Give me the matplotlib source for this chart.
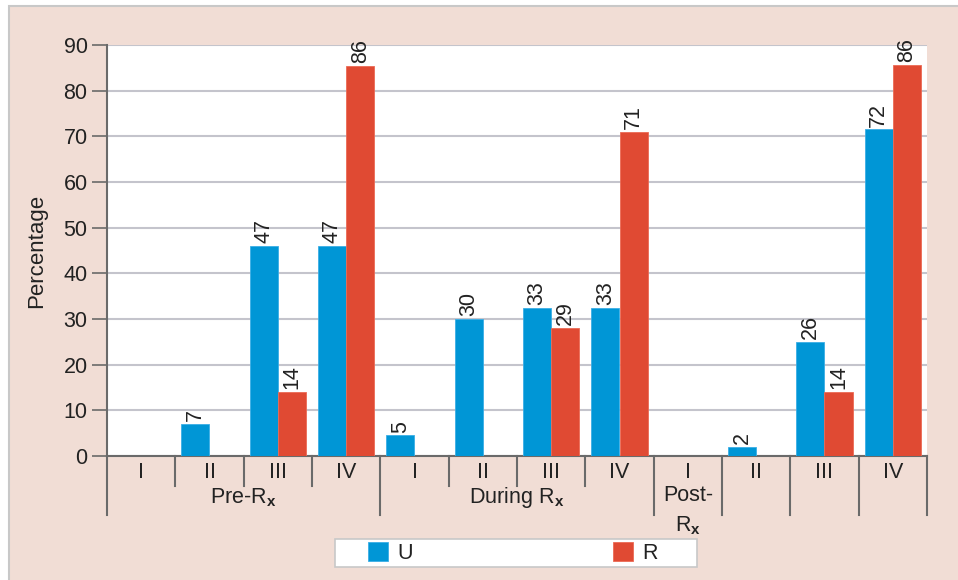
import matplotlib
matplotlib.use("Agg")
import matplotlib.pyplot as plt
from matplotlib.patches import Rectangle
import matplotlib.transforms as mtransforms

plt.rcParams['font.family'] = ['Liberation Sans', 'DejaVu Sans']
plt.rcParams['mathtext.fontset'] = 'custom'
plt.rcParams['mathtext.rm'] = 'Liberation Sans'
plt.rcParams['mathtext.bf'] = 'Liberation Sans:bold'

# ---- data ----
stages = ['I', 'II', 'III', 'IV', 'I', 'II', 'III', 'IV', 'I', 'II', 'III', 'IV']
groups = ['Pre-R$_\\mathbf{x}$', 'During R$_\\mathbf{x}$', 'Post-\nR$_\\mathbf{x}$']
u_values = [0, 7, 46, 46, 4.5, 30, 32.5, 32.5, 0, 2, 25, 71.5]
r_values = [0, 0, 14, 85.5, 0, 0, 28, 71, 0, 0, 14, 85.7]
u_labels = ['', '7', '47', '47', '5', '30', '33', '33', '', '2', '26', '72']
r_labels = ['', '', '14', '86', '', '', '29', '71', '', '', '14', '86']
yticks = [0, 10, 20, 30, 40, 50, 60, 70, 80, 90]

BLUE = '#0096d6'
RED = '#e04a33'
PINK = '#f1ddd5'
GRID = '#c4c4cc'
AXC = '#6a6a6a'
TXT = '#222222'
FS = 15.5

W, H = 958, 580
fig = plt.figure(figsize=(W / 100, H / 100), dpi=100, facecolor='white')

# pink background panel
fig.patches.append(Rectangle((9 / W, -0.05), 1.1, 1 - 6 / H + 0.05, transform=fig.transFigure,
                             facecolor=PINK, edgecolor='#c8c8c8', linewidth=1.5, zorder=-10))

L, R_, T, B = 107, 927, 45, 456
ax = fig.add_axes([L / W, 1 - B / H, (R_ - L) / W, (B - T) / H])
ax.set_facecolor('white')
ax.set_zorder(2)

x = list(range(len(stages)))
bw = 0.41
ax.bar([i - bw / 2 for i in x], u_values, width=bw, color=BLUE, edgecolor='#3aaee6', linewidth=0.6, zorder=3, label='U')
ax.bar([i + bw / 2 for i in x], r_values, width=bw, color=RED, edgecolor='#ec6a55', linewidth=0.6, zorder=3, label='R')

for i in x:
    if u_labels[i]:
        ax.annotate(u_labels[i], (i - bw / 2, u_values[i]), xytext=(0, 2), textcoords='offset points',
                    rotation=90, ha='center', va='bottom', fontsize=FS, color=TXT, zorder=4)
    if r_labels[i]:
        ax.annotate(r_labels[i], (i + bw / 2, r_values[i]), xytext=(0, 2), textcoords='offset points',
                    rotation=90, ha='center', va='bottom', fontsize=FS, color=TXT, zorder=4)

ax.set_xlim(-0.5, len(stages) - 0.5)
ax.set_ylim(0, 90)
ax.set_yticks(yticks)
ax.set_yticklabels([str(v) for v in yticks], fontsize=FS, color=TXT)
ax.tick_params(axis='y', length=11, width=1.2, color=AXC, pad=3)
ax.yaxis.grid(True, color=GRID, linewidth=1.5, zorder=0)
ax.set_axisbelow(True)

ax.set_xticks(x)
ax.set_xticklabels(stages, fontsize=FS, color=TXT)
ax.tick_params(axis='x', length=0, pad=4)

for s in ['top', 'right']:
    ax.spines[s].set_visible(False)
for s in ['left', 'bottom']:
    ax.spines[s].set_color(AXC)
    ax.spines[s].set_linewidth(1.5)

ax.set_ylabel('Percentage', fontsize=16, color=TXT, labelpad=12)

# category separators below the axis
trans = mtransforms.blended_transform_factory(ax.transData, ax.transAxes)
short_y = -30 / (B - T)
long_y = -59 / (B - T)
long_bounds = [-0.5, 3.5, 7.5, 8.5, 9.5, 10.5, 11.5]
for k in range(len(stages) + 1):
    b = k - 0.5
    y1 = long_y if b in long_bounds else short_y
    ax.plot([b, b], [0, y1], transform=trans, color=AXC, linewidth=1.5, clip_on=False, zorder=5)

gy = -(498 - B) / (B - T)
ax.text(1.5, gy, groups[0], transform=trans, ha='center', va='center', fontsize=FS, color=TXT)
ax.text(5.5, gy, groups[1], transform=trans, ha='center', va='center', fontsize=FS, color=TXT)
ax.text(8, -(511 - B) / (B - T), groups[2], transform=trans, ha='center', va='center', fontsize=FS,
        color=TXT, linespacing=1.5)

# legend
fig.patches.append(Rectangle((335 / W, 1 - 567 / H), (697 - 335) / W, 28 / H, transform=fig.transFigure,
                             facecolor='white', edgecolor='#c8c8c8', linewidth=1.2, zorder=1))
leg = fig.legend(loc='center left', bbox_to_anchor=(368 / W, 1 - 553 / H), ncol=2, frameon=False,
                 fontsize=FS, handlelength=0.95, handleheight=0.95, handletextpad=0.4,
                 columnspacing=9.3, borderpad=0, borderaxespad=0)
leg.set_zorder(5)
for t in leg.get_texts():
    t.set_color(TXT)

fig.savefig('out.png', dpi=100, facecolor=fig.get_facecolor())
